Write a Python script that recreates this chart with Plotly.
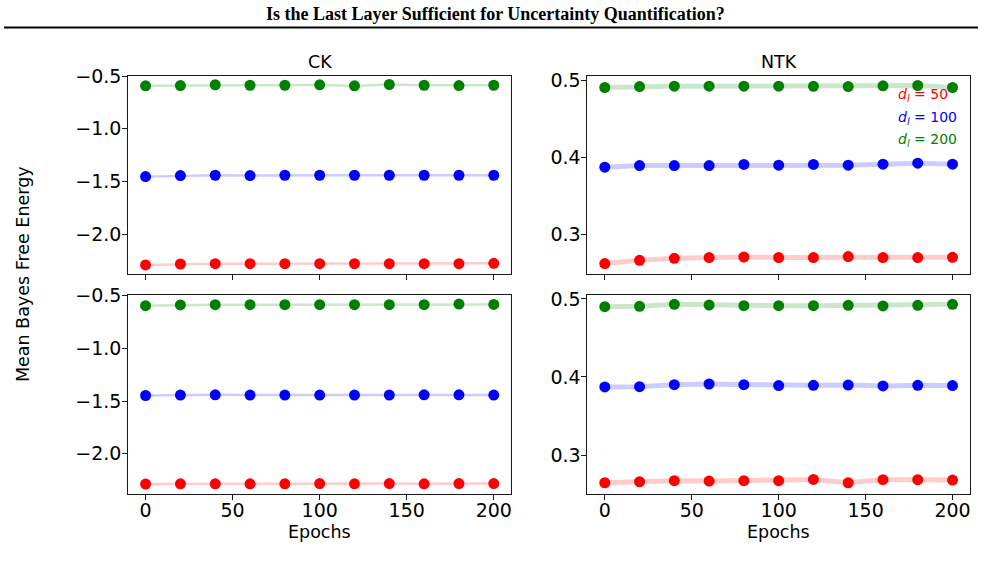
import plotly.graph_objects as go

epochs = [0, 20, 40, 60, 80, 100, 120, 140, 160, 180, 200]

# CK, top row
ck_top_50 = [-2.290, -2.281, -2.278, -2.278, -2.278, -2.278, -2.278, -2.278, -2.278, -2.278, -2.275]
ck_top_100 = [-1.453, -1.443, -1.440, -1.443, -1.440, -1.440, -1.440, -1.440, -1.440, -1.440, -1.440]
ck_top_200 = [-0.593, -0.590, -0.583, -0.587, -0.587, -0.583, -0.593, -0.580, -0.587, -0.590, -0.587]
# NTK, top row
ntk_top_50 = [0.2618, 0.2661, 0.2687, 0.2696, 0.2704, 0.2696, 0.2696, 0.2710, 0.2696, 0.2696, 0.2700]
ntk_top_100 = [0.3874, 0.3896, 0.3896, 0.3896, 0.3910, 0.3900, 0.3910, 0.3900, 0.3913, 0.3926, 0.3913]
ntk_top_200 = [0.4913, 0.4925, 0.4930, 0.4930, 0.4930, 0.4930, 0.4928, 0.4925, 0.4935, 0.4939, 0.4913]
# CK, bottom row
ck_bot_50 = [-2.2875, -2.285, -2.285, -2.285, -2.285, -2.282, -2.285, -2.282, -2.285, -2.282, -2.282]
ck_bot_100 = [-1.447, -1.443, -1.440, -1.443, -1.443, -1.443, -1.443, -1.443, -1.440, -1.440, -1.443]
ck_bot_200 = [-0.595, -0.588, -0.585, -0.585, -0.585, -0.585, -0.585, -0.585, -0.585, -0.579, -0.583]
# NTK, bottom row
ntk_bot_50 = [0.2645, 0.2658, 0.2671, 0.2667, 0.2671, 0.2671, 0.2688, 0.2645, 0.2684, 0.2684, 0.2680]
ntk_bot_100 = [0.3872, 0.3876, 0.3902, 0.3910, 0.3902, 0.3890, 0.3893, 0.3897, 0.3885, 0.3893, 0.3890]
ntk_bot_200 = [0.4901, 0.4905, 0.4931, 0.4922, 0.4914, 0.4914, 0.4914, 0.4918, 0.4910, 0.4918, 0.4931]

series_labels = ["50", "100", "200"]
colors = ["#ff0000", "#0000ff", "#008000"]
band_colors = ["rgba(255,0,0,0.2)", "rgba(0,0,255,0.2)", "rgba(0,128,0,0.2)"]

panel_titles = ["CK", "NTK"]
x_ticks = [0, 50, 100, 150, 200]
ck_yticks = [-0.5, -1.0, -1.5, -2.0]
ntk_yticks = [0.3, 0.4, 0.5]

title_text = "Is the Last Layer Sufficient for Uncertainty Quantification?"
ylabel_text = "Mean Bayes Free Energy"
xlabel_text = "Epochs"

W, H = 985, 565
FONT = "DejaVu Sans"

panels = [
    ("x", "y", [ck_top_50, ck_top_100, ck_top_200], 2.5),
    ("x2", "y2", [ntk_top_50, ntk_top_100, ntk_top_200], 5),
    ("x3", "y3", [ck_bot_50, ck_bot_100, ck_bot_200], 2.5),
    ("x4", "y4", [ntk_bot_50, ntk_bot_100, ntk_bot_200], 5),
]

fig = go.Figure()
for xa, ya, data, lw in panels:
    for vals, c, bc in zip(data, colors, band_colors):
        fig.add_trace(go.Scatter(
            x=epochs, y=vals, mode="lines+markers", xaxis=xa, yaxis=ya,
            line=dict(color=bc, width=lw),
            marker=dict(color=c, size=11, line=dict(width=0)),
            showlegend=False, hoverinfo="skip"))

# empirical correction for the observed vertical mapping of the render
OFF, SCALE = 9.5, 0.98

def px_x(p):
    return p / W

def px_y(p):
    return 1 - ((p - OFF) / SCALE) / H

left_dom = [px_x(128.3), px_x(511.7)]
right_dom = [px_x(588.0), px_x(970.9)]
top_dom = [px_y(272.7), px_y(74.0)]
bot_dom = [px_y(492.0), px_y(293.3)]

def fmt(v):
    s = f"{v:.1f}"
    return s.replace("-", "\u2212")

axis_common = dict(
    showline=True, linecolor="#1a1a1a", linewidth=1, mirror=True,
    ticks="outside", ticklen=5, tickwidth=1, tickcolor="#1a1a1a",
    showgrid=False, zeroline=False,
    tickfont=dict(family=FONT, size=19, color="black"),
)

def xax(dom, anchor, labels):
    d = dict(axis_common)
    d.update(domain=dom, anchor=anchor, range=[-10, 210],
             tickvals=x_ticks, ticktext=[str(t) for t in x_ticks],
             showticklabels=labels, ticklabelstandoff=-6)
    return d

def yax(dom, anchor, rng, ticks):
    d = dict(axis_common)
    d.update(domain=dom, anchor=anchor, range=rng,
             tickvals=ticks, ticktext=[fmt(t) for t in ticks],
             ticklabelstandoff=-3)
    return d

fig.update_layout(
    width=W, height=H,
    margin=dict(l=0, r=0, t=0, b=0),
    paper_bgcolor="white", plot_bgcolor="white",
    font=dict(family=FONT, color="black"),
    xaxis=xax(left_dom, "y", False),
    yaxis=yax(top_dom, "x", [-2.379, -0.495], ck_yticks),
    xaxis2=xax(right_dom, "y2", False),
    yaxis2=yax(top_dom, "x2", [0.2478, 0.5069], ntk_yticks),
    xaxis3=xax(left_dom, "y3", True),
    yaxis3=yax(bot_dom, "x3", [-2.379, -0.493], ck_yticks),
    xaxis4=xax(right_dom, "y4", True),
    yaxis4=yax(bot_dom, "x4", [0.2504, 0.5051], ntk_yticks),
)

annotations = []
# main title
annotations.append(dict(
    text="<b>" + title_text + "</b>", xref="paper", yref="paper",
    x=px_x(496.5), y=px_y(12), xanchor="center", yanchor="middle", showarrow=False,
    font=dict(family="Liberation Serif", size=18, color="black")))
# subplot titles and x labels
for t, dom in zip(panel_titles, [left_dom, right_dom]):
    annotations.append(dict(
        text=t, xref="paper", yref="paper", x=(dom[0] + dom[1]) / 2, y=px_y(60),
        xanchor="center", yanchor="middle", showarrow=False,
        font=dict(family=FONT, size=17.5, color="black")))
    annotations.append(dict(
        text=xlabel_text, xref="paper", yref="paper", x=(dom[0] + dom[1]) / 2, y=px_y(530),
        xanchor="center", yanchor="middle", showarrow=False,
        font=dict(family=FONT, size=17.5, color="black")))
# y label
annotations.append(dict(
    text=ylabel_text, xref="paper", yref="paper", x=px_x(23), y=px_y(272.5),
    xanchor="center", yanchor="middle", textangle=-90, showarrow=False,
    font=dict(family=FONT, size=17.5, color="black")))
# legend texts
for lab, c, yy in zip(series_labels, colors, [93, 116, 138]):
    annotations.append(dict(
        text="<i>d</i><sub><i>l</i></sub> = " + lab, xref="paper", yref="paper",
        x=px_x(897), y=px_y(yy), xanchor="left", yanchor="middle", showarrow=False,
        font=dict(family=FONT, size=14, color=c)))

fig.update_layout(annotations=annotations)
fig.add_shape(type="line", xref="paper", yref="paper",
              x0=px_x(4), x1=px_x(979), y0=px_y(26), y1=px_y(26),
              line=dict(color="black", width=2))

fig.write_html("out.html")
